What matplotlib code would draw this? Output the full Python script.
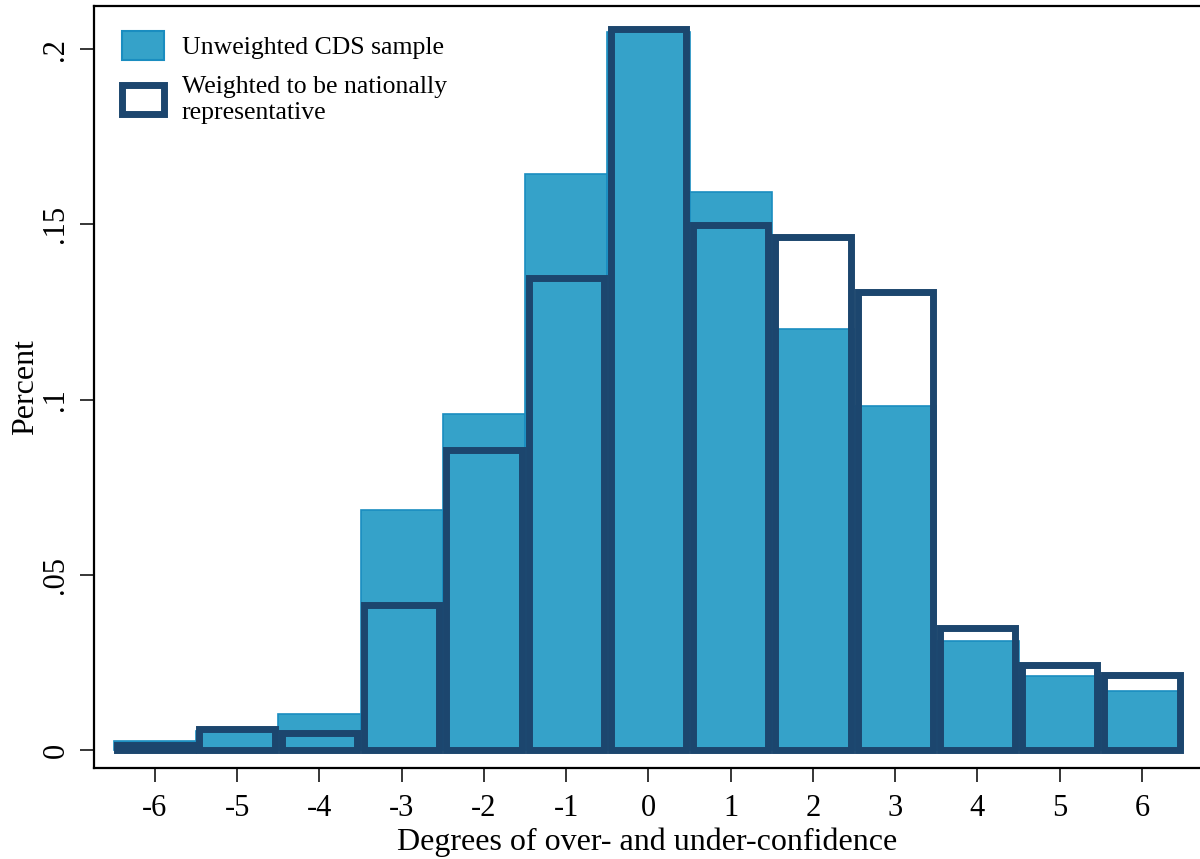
import numpy as np
import matplotlib
matplotlib.use("Agg")
import matplotlib.pyplot as plt
from matplotlib.patches import Patch

plt.rcParams['font.family'] = ['Liberation Serif', 'DejaVu Serif']

degrees = [-6, -5, -4, -3, -2, -1, 0, 1, 2, 3, 4, 5, 6]
unweighted = [0.0025, 0.0055, 0.0102, 0.0685, 0.0958, 0.1643, 0.205,
              0.1593, 0.1200, 0.0982, 0.0312, 0.0210, 0.0168]
weighted = [0.0013, 0.0061, 0.0049, 0.0414, 0.0857, 0.1347, 0.2056,
            0.1498, 0.1464, 0.1307, 0.0349, 0.0243, 0.0215]
yticks = [0, 0.05, 0.1, 0.15, 0.2]
ytick_labels = ["0", ".05", ".1", ".15", ".2"]

light = "#35A2C9"
light_edge = "#1A8DC0"
dark = "#1C466E"

fig = plt.figure(figsize=(12, 8.59), dpi=100)
ax = fig.add_axes([94/1200, 91/859, 1 - 94/1200, (768-6)/859])

xlim = (-6.74, 6.705)
ax.set_xlim(xlim)
ax.set_ylim(-0.00514, 0.2123)

# unweighted: filled bars
ax.bar(degrees, unweighted, width=1.0, color=light, edgecolor=light_edge,
       linewidth=1.2, zorder=2)

# weighted: thick outline, kept inside the bar horizontally
lw = 5.0
px_per_unit = ax.bbox.width / (xlim[1] - xlim[0])
inset = (lw * 100 / 72) / 2 / px_per_unit
ax.bar(degrees, weighted, width=1.0 - 2 * inset, facecolor="none",
       edgecolor=dark, linewidth=lw, joinstyle="miter", zorder=3)

ax.set_xticks(degrees)
ax.set_xticklabels([str(d) for d in degrees])
ax.set_yticks(yticks)
ax.set_yticklabels(ytick_labels, rotation=90, va="center")
ax.tick_params(axis="both", labelsize=22, length=10, width=1.1)
ax.tick_params(axis="y", pad=7)
ax.tick_params(axis="x", pad=9)

for s in ["left", "bottom", "top"]:
    ax.spines[s].set_linewidth(1.6)
ax.spines["right"].set_visible(False)

ax.set_xlabel("Degrees of over- and under-confidence", fontsize=23, labelpad=3)
ax.set_ylabel("Percent", fontsize=23, labelpad=1)

handles = [
    Patch(facecolor=light, edgecolor=light_edge, linewidth=1.5),
    Patch(facecolor="white", edgecolor=dark, linewidth=5),
]
labels = ["Unweighted CDS sample", "Weighted to be nationally\nrepresentative"]
leg = ax.legend(handles, labels, loc="upper left", bbox_to_anchor=(0.011, 0.987),
                frameon=False, fontsize=18.5, handlelength=1.64, handleheight=1.35,
                handletextpad=0.7, labelspacing=0.6, borderaxespad=0.2)
for t in leg.get_texts():
    t.set_linespacing(1.25)

fig.savefig("out.png", dpi=100)
